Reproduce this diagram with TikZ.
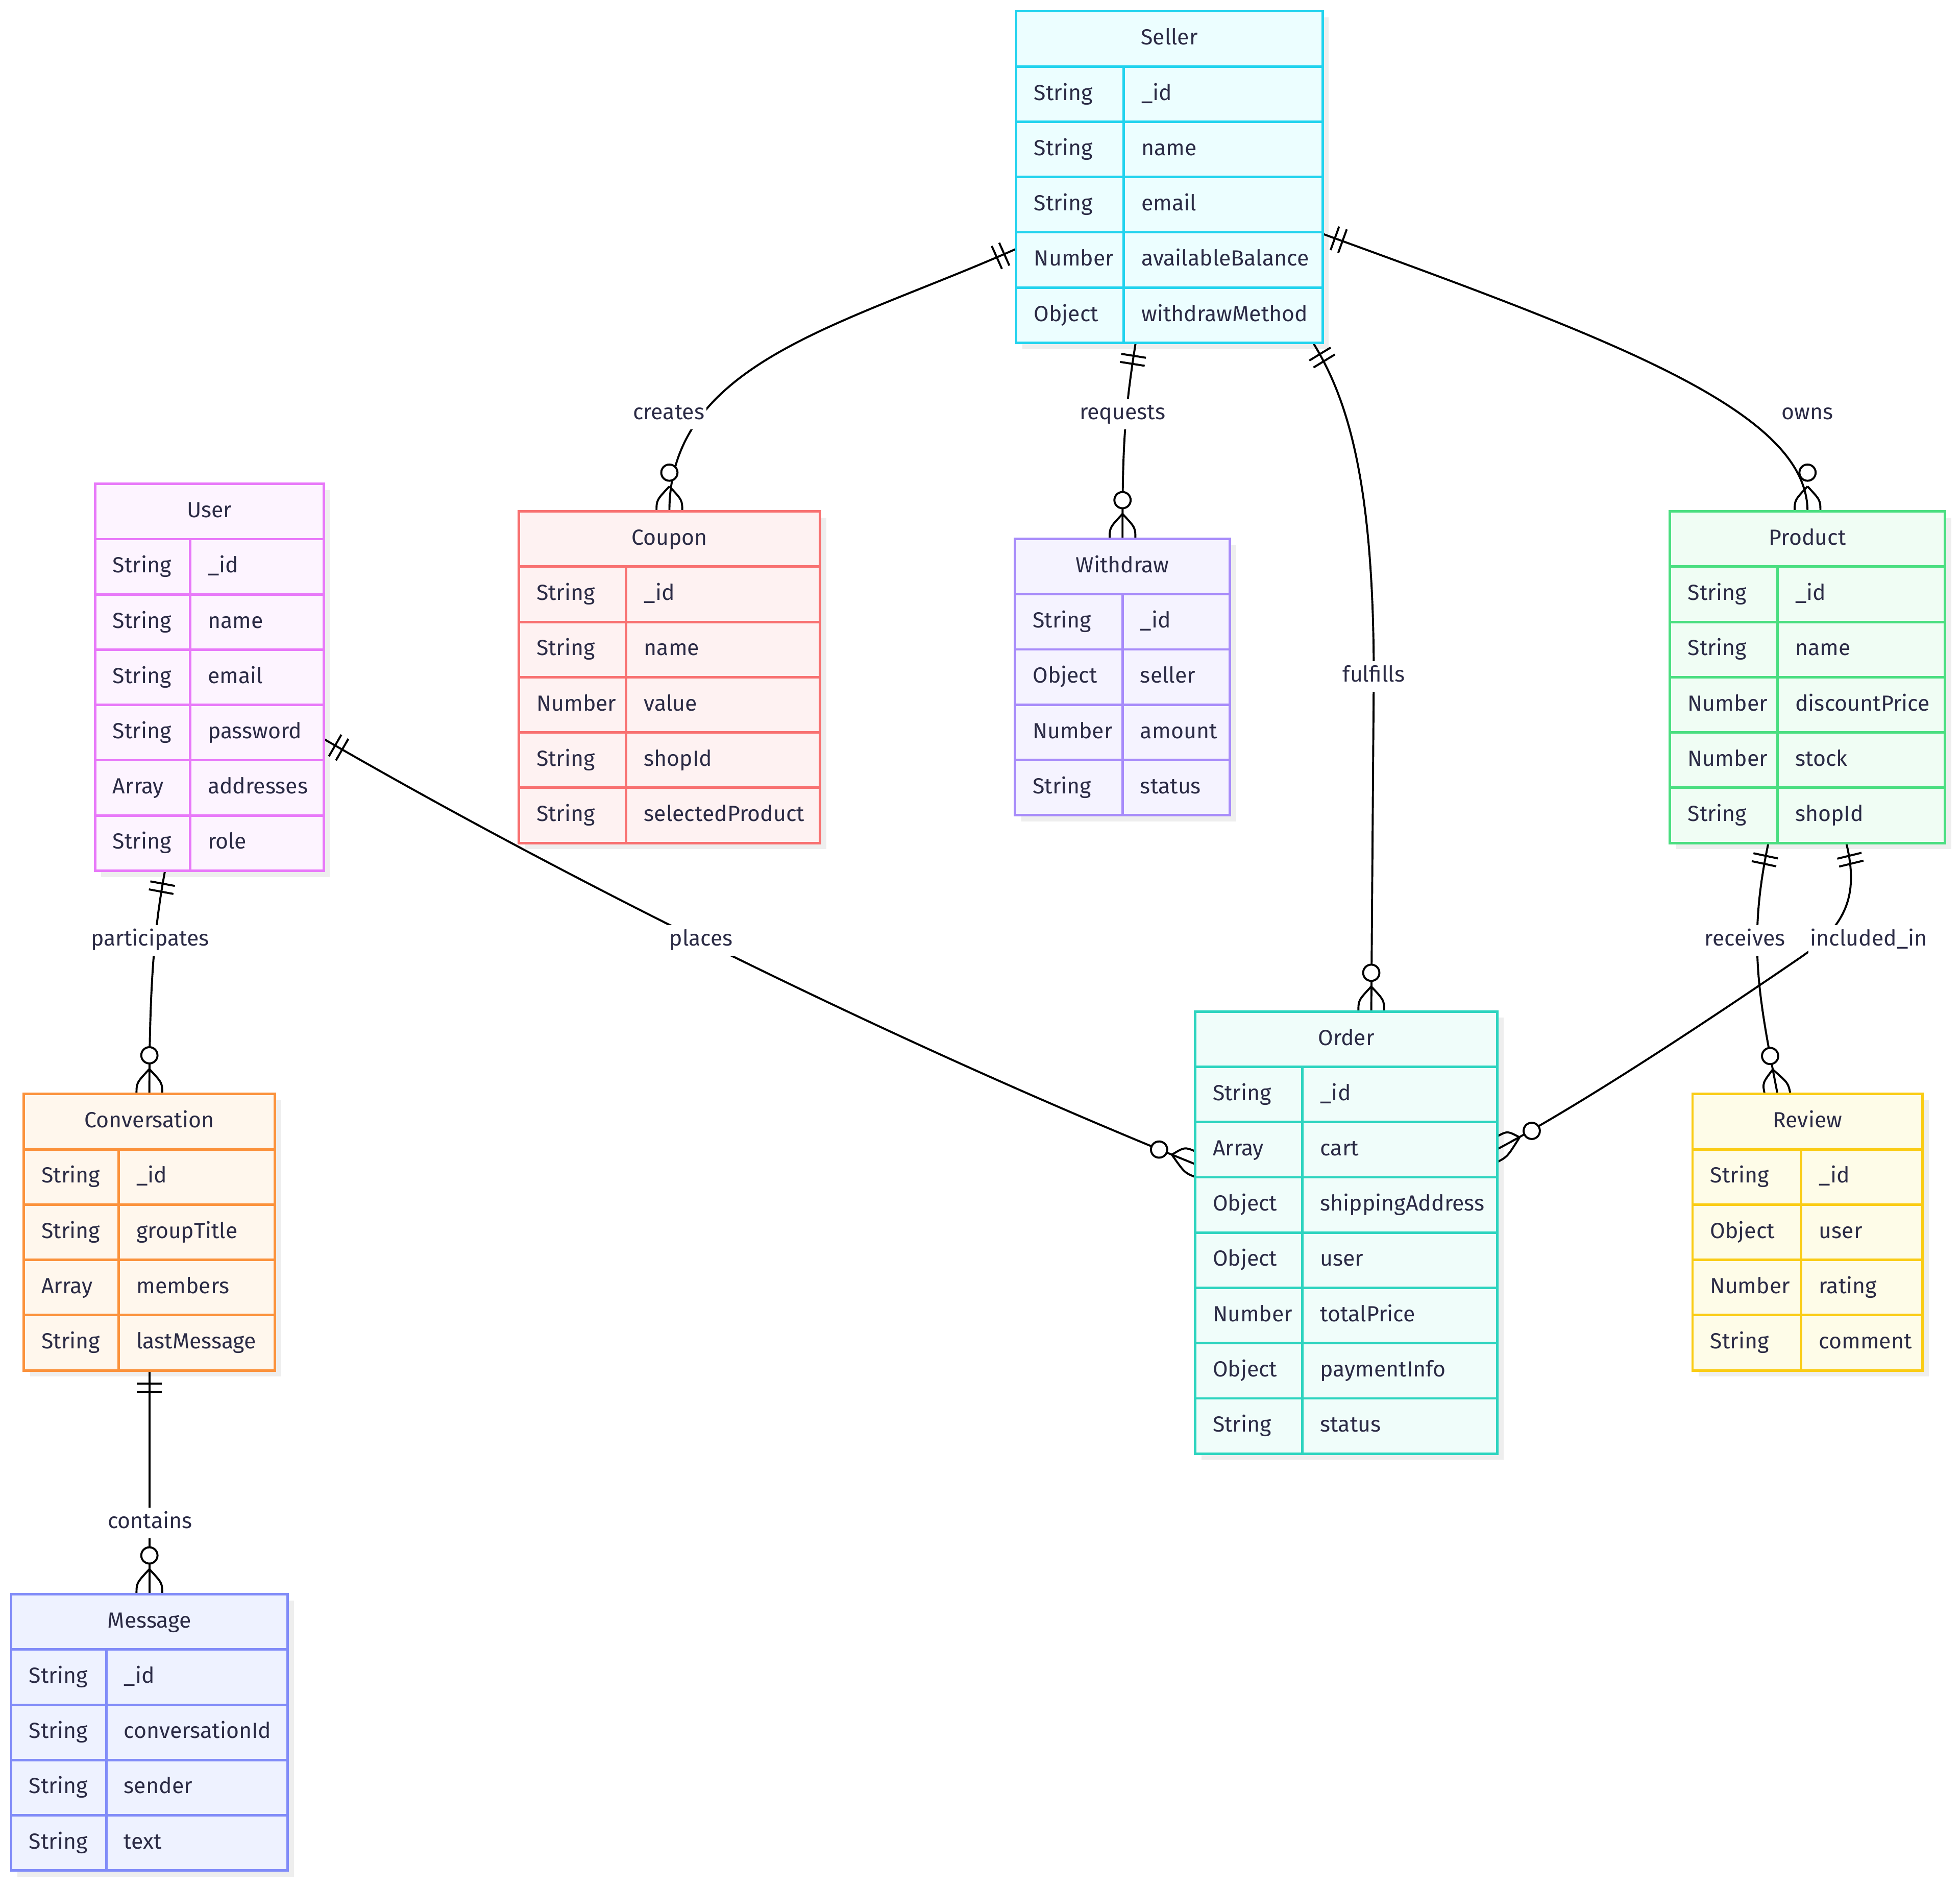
\documentclass[tikz,border=0pt]{standalone}
\usepackage{fontspec}
\setmainfont{Fira Sans}
\usetikzlibrary{calc}
\pgfdeclarelayer{bg}
\pgfdeclarelayer{shadow}
\pgfdeclarelayer{lines}
\pgfsetlayers{bg,shadow,lines,main}
\definecolor{txtc}{HTML}{2B2B45}
\definecolor{shadowc}{HTML}{EEEEEE}
\definecolor{cyB}{HTML}{22D3EE}\definecolor{cyF}{HTML}{ECFEFF}
\definecolor{rdB}{HTML}{F87171}\definecolor{rdF}{HTML}{FEF2F2}
\definecolor{viB}{HTML}{A78BFA}\definecolor{viF}{HTML}{F5F3FF}
\definecolor{grB}{HTML}{4ADE80}\definecolor{grF}{HTML}{F0FDF4}
\definecolor{fuB}{HTML}{E879F9}\definecolor{fuF}{HTML}{FDF4FF}
\definecolor{orB}{HTML}{FB923C}\definecolor{orF}{HTML}{FFF7ED}
\definecolor{inB}{HTML}{818CF8}\definecolor{inF}{HTML}{EEF2FF}
\definecolor{teB}{HTML}{2DD4BF}\definecolor{teF}{HTML}{F0FDFA}
\definecolor{yeB}{HTML}{FACC15}\definecolor{yeF}{HTML}{FEFCE8}
\newcommand\ftxt{\fontsize{17.5}{20}\selectfont}
\tikzset{
  conn/.style={draw=black, line width=1.6pt},
  txt/.style={text=txtc, font=\ftxt, inner sep=0pt, text height=12.5pt, text depth=4pt},
  lbl/.style={txt, fill=white, inner xsep=1.5pt, inner ysep=4pt},
  border/.style={line width=2pt},
}
\newcommand\erows{}
% #1 id, #2 x, #3 top (downwards), #4 width, #5 divider offset, #6 data rows, #7 colour prefix, #8 title
\newcommand\entity[8]{%
  \pgfmathsetmacro\eh{44.2*(#6+1)}%
  \begin{pgfonlayer}{shadow}
    \fill[shadowc] (#2+5,-#3-5) rectangle ++(#4,-\eh);
  \end{pgfonlayer}
  \node[draw=#7B, fill=#7F, border, minimum width=#4pt, minimum height=\eh pt,
        anchor=north west, inner sep=0pt, outer sep=0pt] (#1) at (#2,-#3) {};
  \foreach \k in {1,...,#6} \draw[#7B, border] (#2,-#3-44.2*\k) -- ++(#4,0);
  \draw[#7B, border] (#2+#5,-#3-44.2) -- ++(0,-44.2*#6);
  \node[txt] (#1-title) at (#2+#4/2,-#3-22.6) {#8};
  \foreach \etype/\efield [count=\ei] in \erows {
    \node[txt, anchor=west] (#1-t\ei) at (#2+14,-#3-44.2*\ei-22.6) {\etype};
    \node[txt, anchor=west] (#1-f\ei) at (#2+#5+14,-#3-44.2*\ei-22.6) {\efield};
  }%
}
% exactly one mark: #1 coordinate, #2 outward direction
\newcommand\mkone[2]{%
  \begin{scope}[shift={(#1)}, x={(#2:1pt)}, y={(#2+90:1pt)}]
    \draw[conn] (10.5,-10) -- (10.5,10) (17,-10) -- (17,10);
  \end{scope}}
% zero or more: #1 coordinate, #2 outward direction, #3 edge direction
\newcommand\mkzm[3]{%
  \begin{scope}[shift={(#1)}, x={(#2:1pt)}, y={(#3:1pt)}]
    \draw[conn] (0,10.3) .. controls (9,10.3) .. (20,0);
    \draw[conn] (0,-10.3) .. controls (9,-10.3) .. (20,0);
  \end{scope}
  \draw[conn, fill=white] ([shift={(#2:31pt)}]#1) circle (6.5pt);}
\begin{document}
\begin{tikzpicture}[x=1pt, y=1pt]
\useasboundingbox (0,0) rectangle (1568,-1509);
\begin{pgfonlayer}{bg}
\fill[white] (0,0) rectangle (1568,-1509);
\end{pgfonlayer}

\renewcommand\erows{String/\_id, String/name, String/email, Number/availableBalance, Object/withdrawMethod}
\entity{seller}{813}{9}{245}{86}{5}{cy}{Seller}
\renewcommand\erows{String/\_id, String/name, Number/value, String/shopId, String/selectedProduct}
\entity{coupon}{415}{409}{241}{86}{5}{rd}{Coupon}
\renewcommand\erows{String/\_id, Object/seller, Number/amount, String/status}
\entity{withdraw}{812}{431}{172}{86}{4}{vi}{Withdraw}
\renewcommand\erows{String/\_id, String/name, Number/discountPrice, Number/stock, String/shopId}
\entity{product}{1336}{409}{220}{86}{5}{gr}{Product}
\renewcommand\erows{String/\_id, String/name, String/email, String/password, Array/addresses, String/role}
\entity{user}{76}{387}{183}{76}{6}{fu}{User}
\renewcommand\erows{String/\_id, String/groupTitle, Array/members, String/lastMessage}
\entity{conversation}{19}{875}{201}{76}{4}{or}{Conversation}
\renewcommand\erows{String/\_id, String/conversationId, String/sender, String/text}
\entity{message}{9}{1275}{221}{76}{4}{in}{Message}
\renewcommand\erows{String/\_id, Array/cart, Object/shippingAddress, Object/user, Number/totalPrice, Object/paymentInfo, String/status}
\entity{order}{956}{809}{242}{86}{7}{te}{Order}
\renewcommand\erows{String/\_id, Object/user, Number/rating, String/comment}
\entity{review}{1354}{875}{184}{87}{4}{ye}{Review}

% relation labels
\node[lbl] (lcreates) at (535,-331) {creates};
\node[lbl] (lrequests) at (898,-331) {requests};
\node[lbl] (lfulfills) at (1099,-541) {fulfills};
\node[lbl] (lowns) at (1446,-331) {owns};
\node[lbl] (lplaces) at (561,-752) {places};
\node[lbl] (lparticipates) at (120,-752) {participates};
\node[lbl] (lreceives) at (1396,-752) {receives};
\node[lbl] (lincluded) at (1495,-752) {included\_in};
\node[lbl] (lcontains) at (120,-1218) {contains};

% connector end points
\coordinate (crA) at ([yshift=-57.4pt]seller.west);
\coordinate (crB) at (coupon.north);
\coordinate (rqA) at ([xshift=-27pt]seller.south);
\coordinate (rqB) at (withdraw.north);
\coordinate (ffA) at ([xshift=115pt]seller.south);
\coordinate (ffB) at ([xshift=20pt]order.north);
\coordinate (owA) at ([yshift=-45.4pt]seller.east);
\coordinate (owB) at (product.north);
\coordinate (plA) at ([yshift=-49.3pt]user.east);
\coordinate (plB) at ([yshift=54.8pt]order.west);
\coordinate (ptA) at ([xshift=-35.5pt]user.south);
\coordinate (ptB) at (conversation.north);
\coordinate (ctA) at (conversation.south);
\coordinate (ctB) at (message.north);
\coordinate (rvA) at ([xshift=-31.3pt]product.south);
\coordinate (rvB) at ([xshift=-24pt]review.north);
\coordinate (inA) at ([xshift=31pt]product.south);
\coordinate (inB) at ([yshift=66.8pt]order.east);
\coordinate (inM) at (1440,-766);

\begin{pgfonlayer}{lines}
\draw[conn] (crA) .. controls +(204:150) and +(90:120) .. (crB);
\draw[conn] (rqA) .. controls +(261:60) and +(90:70) .. (rqB);
\draw[conn] (ffA) .. controls +(301.4:50) and +(90:161) .. (lfulfills.center) -- (ffB);
\draw[conn] (owA) .. controls +(340:250) and +(90:80) .. (owB);
\draw[conn] (plA) .. controls +(330:260) and +(158:230) .. (plB);
\draw[conn] (ptA) .. controls +(259.5:45) and +(90:90) .. (ptB);
\draw[conn] (ctA) -- (ctB);
\draw[conn] (rvA) .. controls +(258:80) and +(101:80) .. (rvB);
\draw[conn] (inA) .. controls +(283.7:42) and +(34.4:46) .. (inM)
                  .. controls +(214.4:80) and +(28:80) .. (inB);
\mkone{crA}{204}   \mkzm{crB}{90}{0}
\mkone{rqA}{261}   \mkzm{rqB}{90}{0}
\mkone{ffA}{301.4} \mkzm{ffB}{90}{0}
\mkone{owA}{340}   \mkzm{owB}{90}{0}
\mkone{plA}{330}   \mkzm{plB}{158}{90}
\mkone{ptA}{259.5} \mkzm{ptB}{90}{0}
\mkone{ctA}{270}   \mkzm{ctB}{90}{0}
\mkone{rvA}{258}   \mkzm{rvB}{101}{0}
\mkone{inA}{283.7} \mkzm{inB}{28}{90}
\end{pgfonlayer}
\end{tikzpicture}
\end{document}
